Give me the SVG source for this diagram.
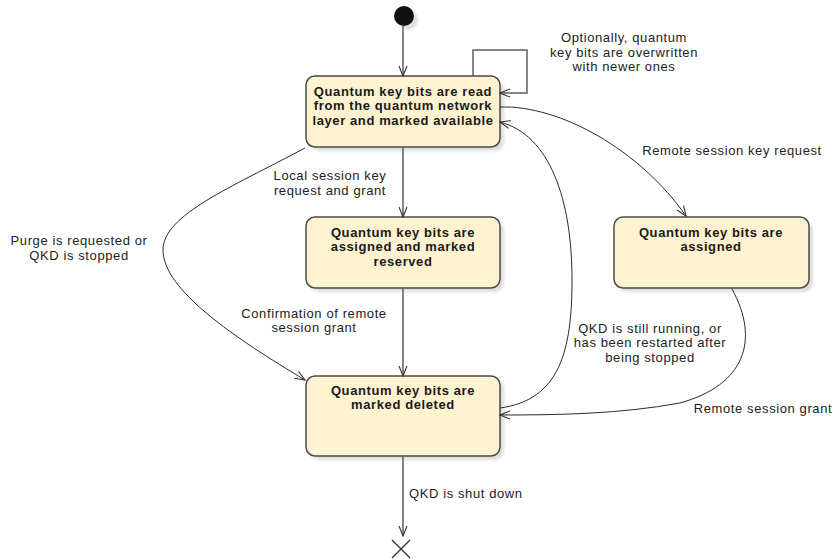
<svg xmlns="http://www.w3.org/2000/svg" width="833" height="560" viewBox="0 0 833 560">
<defs>
<style>
.node rect.box{fill:#FEF2D0;stroke:#4a4a4a;stroke-width:1.5}
.shadow{fill:#000;opacity:0.13;filter:url(#blur)}
.nt{font-family:"Liberation Sans",Arial,sans-serif;font-size:13px;letter-spacing:0.6px;font-weight:bold;fill:#1a1a1a;text-anchor:middle}
.lbl{font-family:"Liberation Sans",Arial,sans-serif;font-size:13px;letter-spacing:0.6px;fill:#222;text-anchor:middle}
.lbl.start{text-anchor:start}
.straight{fill:none;stroke:#5e5e5e;stroke-width:1.5}
.curve{fill:none;stroke:#2a2a2a;stroke-width:1}
</style>
<filter id="blur" x="-10%" y="-10%" width="130%" height="130%"><feGaussianBlur stdDeviation="1.5"/></filter>
<marker id="arr" viewBox="0 0 12 10" refX="11" refY="5" markerWidth="12" markerHeight="10" markerUnits="userSpaceOnUse" orient="auto">
<path d="M1,1 L11,5 L1,9" fill="none" stroke="#333" stroke-width="1.1"/>
</marker>
</defs>

<g id="start">
<circle class="shadow" cx="408" cy="20" r="10"/>
<circle cx="404" cy="16" r="10" fill="#111"/>
</g>

<g id="available" class="node">
<rect class="shadow" x="310" y="80" width="194" height="71" rx="9"/>
<rect class="box" x="306" y="76" width="194" height="71" rx="9"/>
<text class="nt" x="403" y="95.5">Quantum key bits are read</text>
<text class="nt" x="403" y="110">from the quantum network</text>
<text class="nt" x="403" y="124.5">layer and marked available</text>
</g>

<g id="reserved" class="node">
<rect class="shadow" x="310" y="221" width="194" height="71" rx="9"/>
<rect class="box" x="306" y="217" width="194" height="71" rx="9"/>
<text class="nt" x="403" y="236.5">Quantum key bits are</text>
<text class="nt" x="403" y="251">assigned and marked</text>
<text class="nt" x="403" y="265.5">reserved</text>
</g>

<g id="assigned" class="node">
<rect class="shadow" x="618" y="221" width="195" height="71" rx="9"/>
<rect class="box" x="614" y="217" width="195" height="71" rx="9"/>
<text class="nt" x="711" y="236.5">Quantum key bits are</text>
<text class="nt" x="711" y="251">assigned</text>
</g>

<g id="deleted" class="node">
<rect class="shadow" x="310" y="380" width="194" height="80" rx="9"/>
<rect class="box" x="306" y="376" width="194" height="80" rx="9"/>
<text class="nt" x="403" y="394.5">Quantum key bits are</text>
<text class="nt" x="403" y="409">marked deleted</text>
</g>

<g id="end">
<path d="M392,540 L410,558 M410,540 L392,558" stroke="#333" stroke-width="1.3" fill="none"/>
</g>

<g id="connectors">
<path class="straight" d="M403,26 L403,76" marker-end="url(#arr)"/>
<path class="straight" d="M473,76 L473,50 L527,50 L527,93 L500,93" marker-end="url(#arr)"/>
<path class="straight" d="M403,147 L403,217" marker-end="url(#arr)"/>
<path class="straight" d="M403,288 L403,376" marker-end="url(#arr)"/>
<path class="straight" d="M403,456 L403,536" marker-end="url(#arr)"/>
<path class="curve" d="M305,148 C230,188 163,215 163,250 C163,290 235,338 305,380" marker-end="url(#arr)"/>
<path class="curve" d="M500,107 C560,105 640,150 686,216" marker-end="url(#arr)"/>
<path class="curve" d="M500,408 C560,400 572,350 572,280 C572,200 550,135 500,122" marker-end="url(#arr)"/>
<path class="curve" d="M732,289 C760,340 745,385 680,403 C620,414 560,415 500,415" marker-end="url(#arr)"/>
</g>

<g id="labels">
<text class="lbl" x="624" y="42">Optionally, quantum</text>
<text class="lbl" x="624" y="56.5">key bits are overwritten</text>
<text class="lbl" x="624" y="71">with newer ones</text>
<text class="lbl" x="732" y="155">Remote session key request</text>
<text class="lbl" x="330" y="180">Local session key</text>
<text class="lbl" x="330" y="194.5">request and grant</text>
<text class="lbl" x="79" y="245">Purge is requested or</text>
<text class="lbl" x="79" y="259.5">QKD is stopped</text>
<text class="lbl" x="314" y="317.5">Confirmation of remote</text>
<text class="lbl" x="314" y="332">session grant</text>
<text class="lbl" x="650" y="332.5">QKD is still running, or</text>
<text class="lbl" x="650" y="347">has been restarted after</text>
<text class="lbl" x="650" y="361.5">being stopped</text>
<text class="lbl" x="763" y="413">Remote session grant</text>
<text class="lbl start" x="409" y="498">QKD is shut down</text>
</g>
</svg>
